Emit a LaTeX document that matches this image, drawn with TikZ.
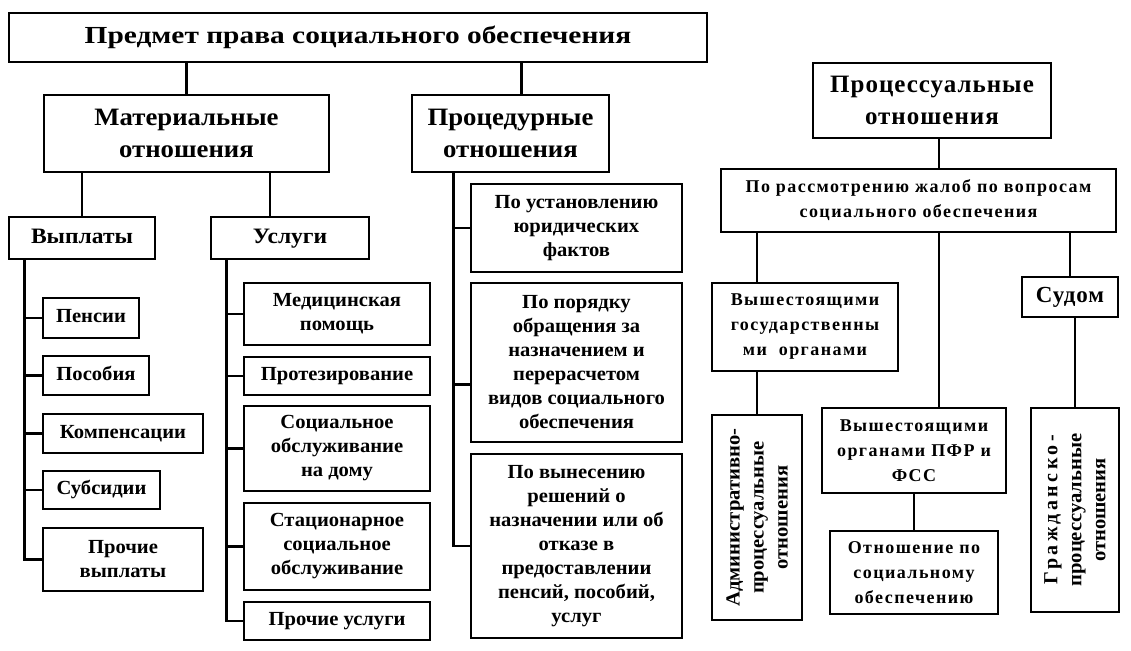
\documentclass[tikz,border=0pt]{standalone}
\usepackage{fontspec}
\setmainfont{Liberation Serif}
\newfontfamily\titlefont[FakeStretch=1.2]{Liberation Serif}
\newfontfamily\headfont[FakeStretch=1.07]{Liberation Serif}
\newfontfamily\leaffont[FakeStretch=1.03]{Liberation Serif}
\newfontfamily\spacedfont[LetterSpace=8]{Liberation Serif}
\newfontfamily\headspacedfont[LetterSpace=4]{Liberation Serif}
\newfontfamily\widerfont[LetterSpace=17]{Liberation Serif}
\usetikzlibrary{positioning}

\begin{document}
\begin{tikzpicture}[x=1pt,y=-1pt,% pixel grid, y runs downwards
			every node/.style={
				align=center,		% lines broken with "\\"
				inner sep=1pt
			},
			box/.style={rectangle,draw=black,line width=2.6pt,fill=white},
			title/.style={font=\fontsize{24.5}{30}\selectfont\titlefont\bfseries},
			big/.style={font=\fontsize{25}{32}\selectfont\headfont\bfseries},
			mid/.style={font=\fontsize{22}{28}\selectfont\headfont\bfseries,text height=15pt,text depth=5pt},
			small/.style={font=\fontsize{20}{24}\selectfont\leaffont\bfseries},
			one/.style={text height=14pt,text depth=4.5pt},	% single line boxes
			bigwide/.style={font=\fontsize{25}{32}\selectfont\headspacedfont\bfseries},
			smallwide/.style={font=\fontsize{18}{25}\selectfont\spacedfont\bfseries},
			link/.style={draw,line width=2.6pt}
		]
		\useasboundingbox (0,0) rectangle (1131,650);
		% top of the tree
		\node[box,title,minimum width=698,minimum height=49](R1) at (358,37.5){Предмет права социального обеспечения};
		\node[box,big,minimum width=285,minimum height=77](R2) at (186.5,133.5){Материальные \\ отношения};
		\node[box,big,minimum width=197,minimum height=77](R3) at (510.5,133.5){Процедурные \\ отношения};
		\node[box,mid,minimum width=146,minimum height=42](R4) at (82,238){Выплаты};
		\node[box,mid,minimum width=158,minimum height=42](R5) at (290,238){Услуги};
		% payments
		\node[box,small,one,minimum width=96,minimum height=40](R6) at (91,318){Пенсии};
		\node[box,small,one,minimum width=106,minimum height=39](R7) at (96,375.5){Пособия};
		\node[box,small,one,minimum width=160,minimum height=39](R8) at (123,433.5){Компенсации};
		\node[box,small,one,minimum width=117,minimum height=38](R9) at (101.5,490){Субсидии};
		\node[box,small,minimum width=160,minimum height=63](R10) at (123,559.5){Прочие \\ выплаты};
		% services
		\node[box,small,minimum width=186,minimum height=62](R11) at (337,314){Медицинская \\ помощь};
		\node[box,small,one,minimum width=186,minimum height=38](R12) at (337,376){Протезирование};
		\node[box,small,minimum width=186,minimum height=85](R13) at (337,448.5){Социальное \\ обслуживание \\ на дому};
		\node[box,small,minimum width=186,minimum height=87](R14) at (337,546.5){Стационарное \\ социальное \\ обслуживание};
		\node[box,small,one,minimum width=186,minimum height=38](R15) at (337,621){Прочие услуги};
		% procedures
		\node[box,small,minimum width=211,minimum height=88](R16) at (576.5,228){По установлению \\ юридических \\ фактов};
		\node[box,small,minimum width=211,minimum height=159](R17) at (576.5,362.5){По порядку \\ обращения за \\ назначением и \\ перерасчетом \\ видов социального \\ обеспечения};
		\node[box,small,minimum width=211,minimum height=184](R18) at (576.5,546){По вынесению \\ решений о \\ назначении или об \\ отказе в \\ предоставлении \\ пенсий, пособий, \\ услуг};
		% procedural relations
		\node[box,bigwide,minimum width=238,minimum height=75](R19) at (932,100.5){Процессуальные \\ отношения};
		\node[box,smallwide,minimum width=395,minimum height=63](R20) at (918.5,200.5){По рассмотрению жалоб по вопросам \\ социального обеспечения};
		\node[box,smallwide,minimum width=186,minimum height=88](R21) at (805,327){Вышестоящими \\ государственны \\ ми\ \ органами};
		\node[box,small,rotate=90,minimum width=205,minimum height=90](R22) at (757,517.5){Административно- \\ процессуальные \\ отношения};
		\node[box,smallwide,minimum width=184,minimum height=85](R23) at (914,450.5){Вышестоящими \\ органами ПФР и \\ ФСС};
		\node[box,smallwide,minimum width=168,minimum height=83](R24) at (914,572.5){Отношение по \\ социальному \\ обеспечению};
		\node[box,font=\fontsize{23}{28}\selectfont\headspacedfont\bfseries,text height=15pt,text depth=5pt,minimum width=96,minimum height=40](R25) at (1070,297){Судом};
		\node[box,small,rotate=90,minimum width=204,minimum height=88](R26) at (1075,510){{\widerfont Гражданско-} \\ процессуальные \\ отношения};
		% connectors
		\path[link]
		(R1.south -| R2) -- (R2.north)
		([xshift=11pt]R3.north) -- ([xshift=11pt]R3.north |- R1.south)
		(R2.south -| R4) -- (R4.north)
		([xshift=-20pt]R5.north) -- ([xshift=-20pt]R5.north |- R2.south)
		([xshift=7pt]R19.south) -- ([xshift=7pt]R19.south |- R20.north)
		([xshift=7pt]R19.south |- R20.south) -- ([xshift=7pt]R19.south |- R23.north)
		(R20.south -| R22.east) -- (R21.north -| R22.east)
		(R21.south -| R22.east) -- (R22.east)
		(R23.south) -- (R24.north)
		(R20.south -| R25) -- (R25.north)
		(R25.south -| R26.east) -- (R26.east)
		;
		\foreach \n in {R6,R7,R8,R9,R10}
			\draw[link] ([xshift=17pt]R4.south west) |- (\n.west);
		\foreach \n in {R11,R12,R13,R14,R15}
			\draw[link] ([xshift=17pt]R5.south west) |- (\n.west);
		\draw[link] ([xshift=43pt]R3.south west) |- (R16.west);
		\draw[link] ([xshift=43pt]R3.south west) |- ([yshift=-22pt]R17.west);
		\draw[link] ([xshift=43pt]R3.south west) |- (R18.west);
	\end{tikzpicture}
\end{document}
